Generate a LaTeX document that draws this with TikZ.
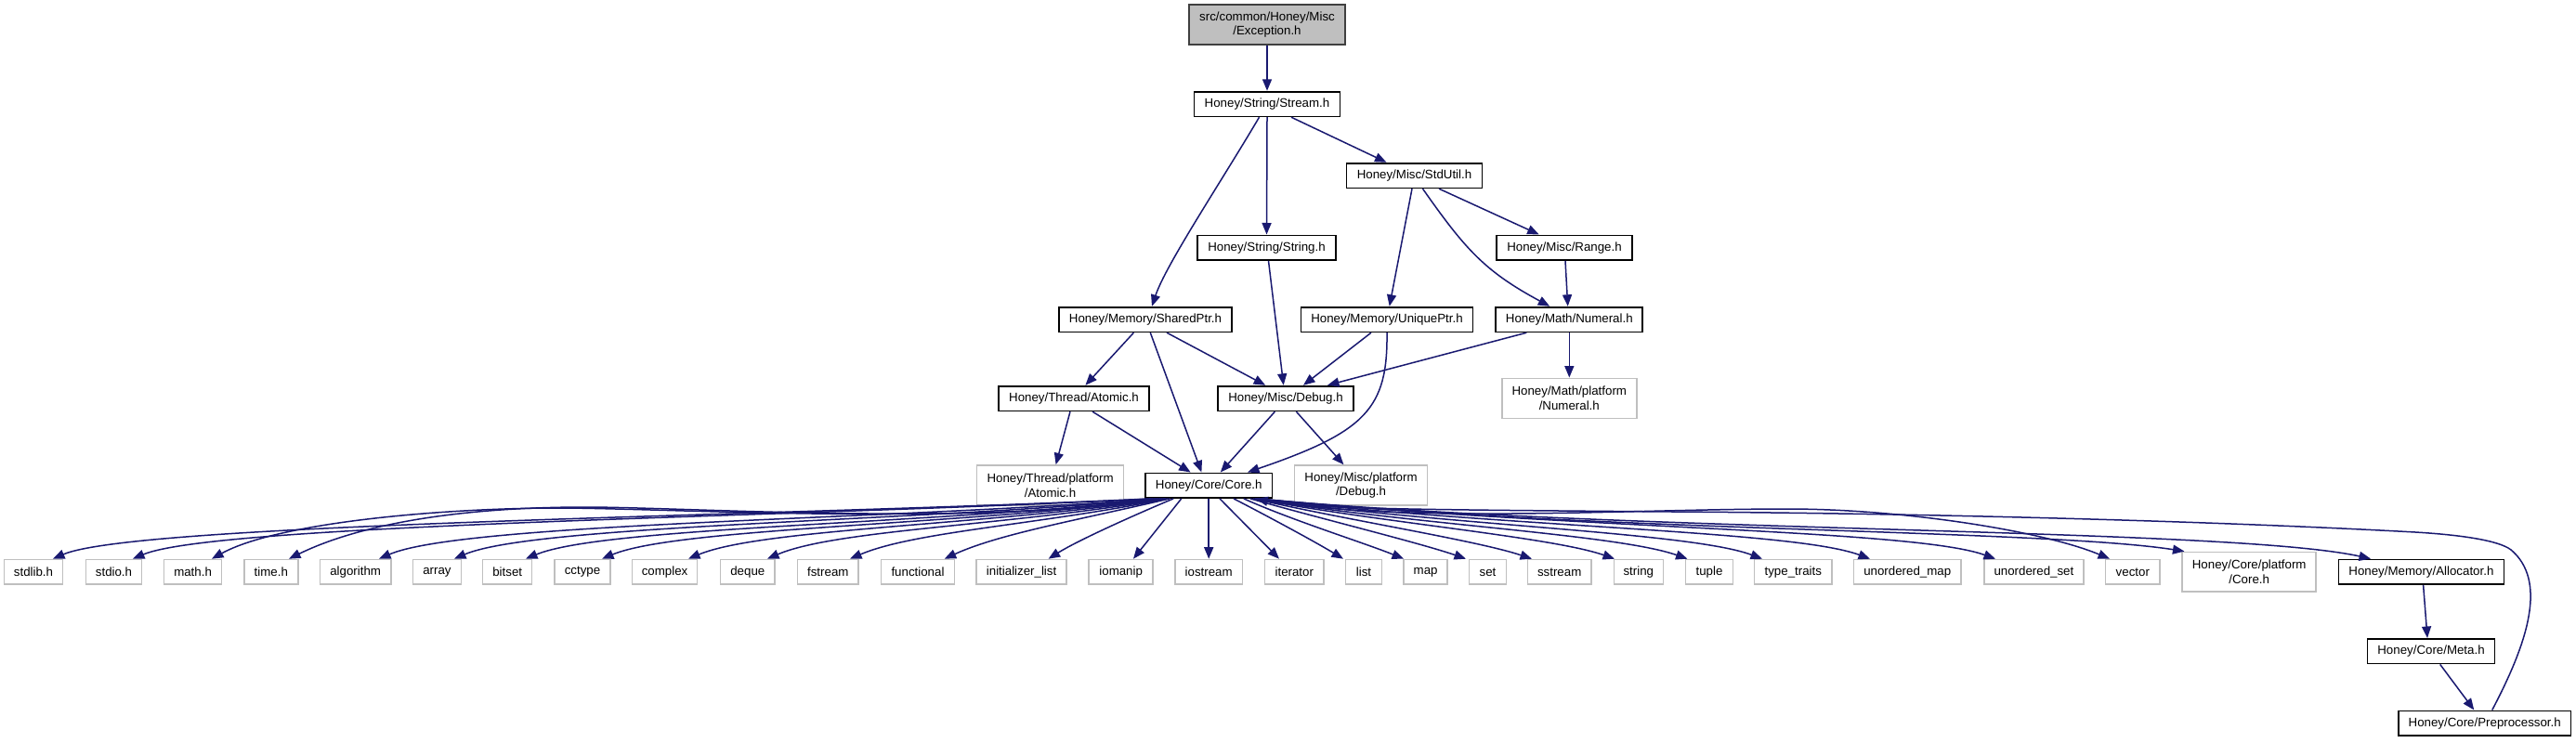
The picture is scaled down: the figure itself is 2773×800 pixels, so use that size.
\documentclass[tikz,border=0pt]{standalone}
\usepackage{fontspec}
\setmainfont{Liberation Sans}
\usetikzlibrary{arrows.meta}
\definecolor{edgec}{HTML}{191970}
\definecolor{gborder}{HTML}{BFBFBF}
\definecolor{excfill}{HTML}{BFBFBF}
\begin{document}
\begin{tikzpicture}[x=1pt,y=-1pt,
  nd/.style={draw=black, line width=1.7pt, inner sep=0pt, minimum height=26.7pt,
    font=\fontsize{13.3}{15.7}\selectfont, align=center},
  gnd/.style={nd, draw=gborder, line width=1.5pt},
  lnk/.style={draw=edgec, line width=1.5pt, -{Triangle[length=12.5pt,width=10pt]}},
]
\useasboundingbox[fill=white] (0,0) rectangle (2773,800);

% upper nodes
\node[nd, fill=excfill, draw=black!75, minimum width=168pt, minimum height=43.5pt] (exc) at (1364,26.5) {src/common/Honey/Misc\\/Exception.h};
\node[nd, minimum width=157pt] (stream) at (1364,112) {Honey/String/Stream.h};
\node[nd, minimum width=146pt] (stdutil) at (1522.5,189) {Honey/Misc/StdUtil.h};
\node[nd, minimum width=148.5pt] (string) at (1363.5,266.7) {Honey/String/String.h};
\node[nd, minimum width=145.4pt] (range) at (1684,266.7) {Honey/Misc/Range.h};
\node[nd, minimum width=186pt] (sharedptr) at (1233,344) {Honey/Memory/SharedPtr.h};
\node[nd, minimum width=185pt] (uniqueptr) at (1493,344) {Honey/Memory/UniquePtr.h};
\node[nd, minimum width=158pt] (numeral) at (1689.3,344) {Honey/Math/Numeral.h};
\node[nd, minimum width=161.7pt] (atomic) at (1156,429) {Honey/Thread/Atomic.h};
\node[nd, minimum width=145.4pt] (debug) at (1384,429) {Honey/Misc/Debug.h};
\node[gnd, minimum width=145pt, minimum height=43.4pt] (mathplat) at (1689.3,429) {Honey/Math/platform\\/Numeral.h};
\node[gnd, minimum width=158.2pt, minimum height=43pt] (threadplat) at (1130.6,522.5) {Honey/Thread/platform\\/Atomic.h};
\node[nd, minimum width=136.4pt] (core) at (1301.2,522.7) {Honey/Core/Core.h};
\node[gnd, minimum width=143.3pt, minimum height=43pt] (miscplat) at (1465,522.5) {Honey/Misc/platform\\/Debug.h};

% bottom row
\node[gnd, minimum width=63pt] (stdlib) at (36,615.8) {stdlib.h};
\node[gnd, minimum width=60pt] (stdio) at (122.5,615.8) {stdio.h};
\node[gnd, minimum width=62pt] (math) at (207.6,615.8) {math.h};
\node[gnd, minimum width=58pt] (time) at (291.8,615.8) {time.h};
\node[gnd, minimum width=76.5pt] (algorithm) at (382.7,615.8) {algorithm};
\node[gnd, minimum width=51.7pt] (array) at (470.4,615.8) {array};
\node[gnd, minimum width=53pt] (bitset) at (546.2,615.8) {bitset};
\node[gnd, minimum width=60pt] (cctype) at (627,615.8) {cctype};
\node[gnd, minimum width=70pt] (complex) at (715.6,615.8) {complex};
\node[gnd, minimum width=58.7pt] (deque) at (804.8,615.8) {deque};
\node[gnd, minimum width=65.7pt] (fstream) at (891.3,615.8) {fstream};
\node[gnd, minimum width=79pt] (functional) at (988,615.8) {functional};
\node[gnd, minimum width=97pt] (initlist) at (1099.6,615.8) {initializer\_list};
\node[gnd, minimum width=69pt] (iomanip) at (1206.7,615.8) {iomanip};
\node[gnd, minimum width=72.7pt] (iostream) at (1301.2,615.8) {iostream};
\node[gnd, minimum width=63.2pt] (iterator) at (1393.3,615.8) {iterator};
\node[gnd, minimum width=39pt] (list) at (1468,615.8) {list};
\node[gnd, minimum width=47pt] (map) at (1534.6,615.8) {map};
\node[gnd, minimum width=39.6pt] (set) at (1601.5,615.8) {set};
\node[gnd, minimum width=68.8pt] (sstream) at (1678.7,615.8) {sstream};
\node[gnd, minimum width=53pt] (stringh) at (1763.8,615.8) {string};
\node[gnd, minimum width=50.7pt] (tuple) at (1840,615.8) {tuple};
\node[gnd, minimum width=83.2pt] (typetraits) at (1930.3,615.8) {type\_traits};
\node[gnd, minimum width=115.4pt] (umap) at (2053.2,615.8) {unordered\_map};
\node[gnd, minimum width=107.3pt] (uset) at (2189.4,615.8) {unordered\_set};
\node[gnd, minimum width=58.4pt] (vector) at (2295.8,615.8) {vector};
\node[gnd, minimum width=144pt, minimum height=42.7pt] (coreplat) at (2421.2,615.7) {Honey/Core/platform\\/Core.h};
\node[nd, minimum width=178pt] (allocator) at (2606.4,615.8) {Honey/Memory/Allocator.h};
\node[nd, minimum width=137pt] (meta) at (2617,701.2) {Honey/Core/Meta.h};
\node[nd, minimum width=185.5pt] (preproc) at (2674.7,778.7) {Honey/Core/Preprocessor.h};

% upper edges
\draw[lnk] (exc) -- (stream);
\draw[lnk] ([xshift=-8.5pt]stream.south) .. controls (1315,195) and (1255,285) .. ([xshift=7pt]sharedptr.north);
\draw[lnk] (stream.south) -- (string.north);
\draw[lnk] ([xshift=26pt]stream.south) -- ([xshift=-30pt]stdutil.north);
\draw[lnk] ([xshift=-2.5pt]stdutil.south) -- ([xshift=2.7pt]uniqueptr.north);
\draw[lnk] ([xshift=9pt]stdutil.south) .. controls (1577,268) and (1598,292) .. ([xshift=-21pt]numeral.north);
\draw[lnk] ([xshift=26.5pt]stdutil.south) -- ([xshift=-27.3pt]range.north);
\draw[lnk] ([xshift=2pt]string.south) -- ([xshift=-2.3pt]debug.north);
\draw[lnk] ([xshift=1pt]range.south) -- ([xshift=-1.6pt]numeral.north);
\draw[lnk] ([xshift=-12.6pt]sharedptr.south) -- ([xshift=12.4pt]atomic.north);
\draw[lnk] ([xshift=5.3pt]sharedptr.south) -- ([xshift=-7.8pt]core.north);
\draw[lnk] ([xshift=23pt]sharedptr.south) -- ([xshift=-21.8pt]debug.north);
\draw[lnk] ([xshift=-17pt]uniqueptr.south) -- ([xshift=19pt]debug.north);
\draw[lnk] (uniqueptr.south) .. controls (1494,440) and (1470,465) .. ([xshift=41.8pt]core.north);
\draw[lnk] ([xshift=-46pt]numeral.south) -- ([xshift=45pt]debug.north);
\draw[lnk] (numeral) -- (mathplat);
\draw[lnk] ([xshift=-4pt]atomic.south) -- ([xshift=6pt]threadplat.north);
\draw[lnk] ([xshift=20pt]atomic.south) -- ([xshift=-19.6pt]core.north);
\draw[lnk] ([xshift=-11.6pt]debug.south) -- ([xshift=12.6pt]core.north);
\draw[lnk] ([xshift=11.4pt]debug.south) -- ([xshift=-18.6pt]miscplat.north);

% core -> left
\draw[lnk] ([xshift=7pt]core.south west) .. controls (840,556) and (147,563) .. ([xshift=21pt]stdlib.north);
\draw[lnk] ([xshift=9pt]core.south west) .. controls (850,557) and (233,564) .. ([xshift=20.5pt]stdio.north);
\draw[lnk] ([xshift=11pt]core.south west) .. controls (1050,567) and (720,547) .. (600,547) .. controls (480,547) and (300,562) .. ([xshift=20.4pt]math.north);
\draw[lnk] ([xshift=13pt]core.south west) .. controls (1060,567) and (740,546) .. (630,546) .. controls (500,546) and (390,563) .. ([xshift=19.2pt]time.north);
\draw[lnk] ([xshift=15pt]core.south west) .. controls (950,560) and (498,563) .. ([xshift=25.3pt]algorithm.north);
\draw[lnk] ([xshift=17pt]core.south west) .. controls (980,562) and (575,565) .. ([xshift=18.6pt]array.north);
\draw[lnk] ([xshift=19pt]core.south west) .. controls (1000,565) and (650,567) .. ([xshift=19.8pt]bitset.north);
\draw[lnk] ([xshift=21pt]core.south west) .. controls (1030,566) and (730,568) .. ([xshift=21pt]cctype.north);
\draw[lnk] ([xshift=22pt]core.south west) .. controls (1060,566) and (820,569) .. ([xshift=25.4pt]complex.north);
\draw[lnk] ([xshift=23pt]core.south west) .. controls (1090,566) and (900,570) .. ([xshift=21.2pt]deque.north);
\draw[lnk] ([xshift=25pt]core.south west) .. controls (1120,565) and (985,572) .. ([xshift=23.7pt]fstream.north);
\draw[lnk] ([xshift=27pt]core.south west) .. controls (1160,560) and (1075,575) .. ([xshift=28.7pt]functional.north);
\draw[lnk] ([xshift=31pt]core.south west) .. controls (1220,555) and (1160,582) .. ([xshift=29pt]initlist.north);
\draw[lnk] ([xshift=-29.5pt]core.south) -- ([xshift=13.3pt]iomanip.north);
\draw[lnk] (core) -- (iostream);

% core -> right
\draw[lnk] ([xshift=11.8pt]core.south) -- ([xshift=-16.3pt]iterator.north);
\draw[lnk] ([xshift=26.8pt]core.south) .. controls (1365,556) and (1415,583) .. ([xshift=-22pt]list.north);
\draw[lnk] ([xshift=-31.4pt]core.south east) .. controls (1390,560) and (1470,585) .. ([xshift=-23.6pt]map.north);
\draw[lnk] ([xshift=-24.4pt]core.south east) .. controls (1420,558) and (1530,585) .. ([xshift=-23.5pt]set.north);
\draw[lnk] ([xshift=-21.4pt]core.south east) .. controls (1450,560) and (1590,582) .. ([xshift=-29.7pt]sstream.north);
\draw[lnk] ([xshift=-19.4pt]core.south east) .. controls (1480,562) and (1670,578) .. ([xshift=-25.8pt]stringh.north);
\draw[lnk] ([xshift=-19.4pt]core.south east) .. controls (1520,565) and (1740,575) .. ([xshift=-23.5pt]tuple.north);
\draw[lnk] ([xshift=-18.4pt]core.south east) .. controls (1560,566) and (1820,573) .. ([xshift=-33.3pt]typetraits.north);
\draw[lnk] ([xshift=-17.4pt]core.south east) .. controls (1620,568) and (1930,571) .. ([xshift=-40.2pt]umap.north);
\draw[lnk] ([xshift=-17.4pt]core.south east) .. controls (1700,570) and (2060,570) .. ([xshift=-41.4pt]uset.north);
\draw[lnk] ([xshift=-17.4pt]core.south east) .. controls (1500,565) and (1750,548) .. (1924,548) .. controls (2050,548) and (2200,572) .. ([xshift=-24.8pt]vector.north);
\draw[lnk] ([xshift=-17.4pt]core.south east) .. controls (1700,572) and (2200,570) .. ([xshift=3pt]coreplat.north west);
\draw[lnk] ([xshift=-17.4pt]core.south east) .. controls (1750,574) and (2400,568) .. ([xshift=-54.4pt]allocator.north);

% right column
\draw[lnk] ([xshift=2.2pt]allocator.south) -- ([xshift=-4pt]meta.north);
\draw[lnk] ([xshift=9.7pt]meta.south) -- ([xshift=-11.4pt]preproc.north);
\draw[lnk] ([xshift=8pt]preproc.north) .. controls (2722,690) and (2742,625) .. (2703,592)
  .. controls (2690,582) and (2650,576) .. (2600,573)
  .. controls (2400,562) and (2100,553) .. (1800,551)
  .. controls (1550,549) and (1400,548) .. ([xshift=-18pt]core.south east);
\end{tikzpicture}
\end{document}
